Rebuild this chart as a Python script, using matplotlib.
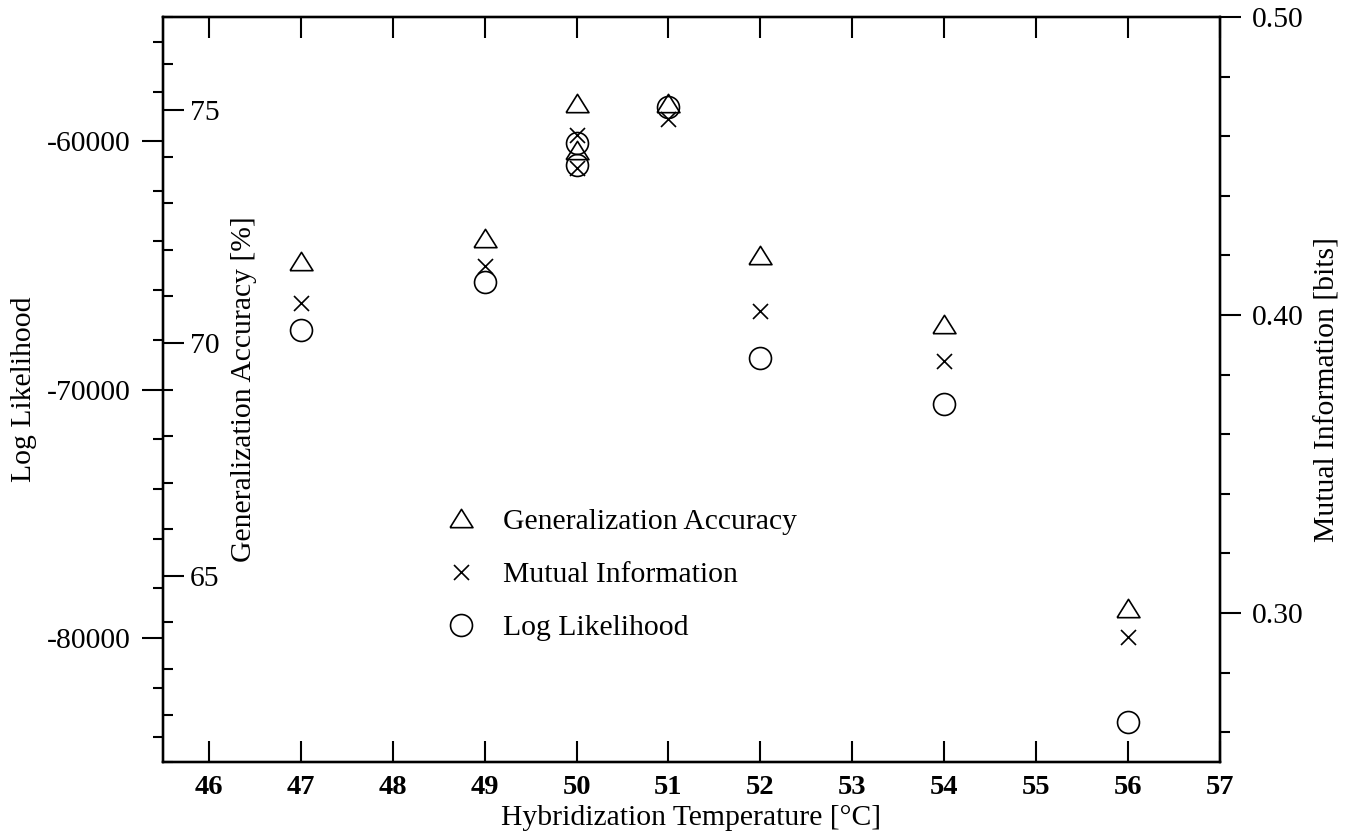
import numpy as np
import matplotlib
matplotlib.use('Agg')
import matplotlib.pyplot as plt

plt.rcParams['font.family'] = 'Liberation Serif'
plt.rcParams['font.size'] = 21.3
plt.rcParams['axes.unicode_minus'] = False

# data
temps = [47, 49, 50, 50, 51, 52, 54, 56]
accuracy = [71.77, 72.26, 75.15, 74.15, 75.15, 71.88, 70.40, 64.31]
mutual_info = [0.4041, 0.4164, 0.4603, 0.4495, 0.4657, 0.4013, 0.3847, 0.2918]
log_lik = [-67590, -65690, -60080, -60950, -58610, -68730, -70600, -83380]

x_ticks = list(range(46, 58))
ll_major = [-80000, -70000, -60000]
ll_minor = [v for v in range(-84000, -55000, 2000) if v not in ll_major]
acc_major = [65, 70, 75]
acc_minor = [v for v in range(61, 78) if v not in acc_major]
mi_major = [0.30, 0.40, 0.50]
mi_minor = [0.26, 0.28, 0.32, 0.34, 0.36, 0.38, 0.42, 0.44, 0.46, 0.48]

tri = [(-1, -0.8), (1, -0.8), (0, 0.8), (-1, -0.8)]
mk = dict(linestyle='none', markerfacecolor='none', markeredgecolor='black', markeredgewidth=1.2)

fig = plt.figure(figsize=(13.57, 8.35), dpi=100)
ax = fig.add_axes([0.1201, 0.0874, 0.7789, 0.8922])
ax_acc = ax.twinx()
ax_mi = ax.twinx()

for a in (ax, ax_acc, ax_mi):
    for s in a.spines.values():
        s.set_linewidth(1.6)

# x axis
ax.set_xlim(45.5, 57)
ax.set_xticks(x_ticks)
ax.tick_params(axis='x', which='both', direction='in', top=True, bottom=True,
               length=15, width=1.5, pad=9, labelsize=20.5)
for t in ax.get_xticklabels():
    t.set_fontweight('bold')
ax.set_xlabel('Hybridization Temperature [°C]')
ax.xaxis.set_label_coords(0.5, -0.058)

# log likelihood (outer left)
ax.set_ylim(-85000, -55000)
ax.set_yticks(ll_major)
ax.set_yticklabels([str(v) for v in ll_major])
ax.set_yticks(ll_minor, minor=True)
ax.tick_params(axis='y', which='major', direction='out', left=True, right=False,
               length=15, width=1.5, pad=8)
ax.tick_params(axis='y', which='minor', direction='out', left=True, right=False,
               length=7.5, width=1.5)
ax.set_ylabel('Log Likelihood')
ax.yaxis.set_label_coords(-0.119, 0.5)

# generalization accuracy (inner left)
ax_acc.yaxis.tick_left()
ax_acc.yaxis.set_label_position('left')
ax_acc.set_ylim(61, 77)
ax_acc.set_yticks(acc_major)
ax_acc.set_yticklabels([str(v) for v in acc_major])
ax_acc.set_yticks(acc_minor, minor=True)
ax_acc.tick_params(axis='y', which='major', direction='in', left=True, right=False,
                   labelleft=True, labelright=False, length=15, width=1.5, pad=-19.4)
ax_acc.tick_params(axis='y', which='minor', direction='in', left=True, right=False,
                   length=7.5, width=1.5)
for t in ax_acc.get_yticklabels():
    t.set_horizontalalignment('left')
ax_acc.set_ylabel('Generalization Accuracy [%]')
ax_acc.yaxis.set_label_coords(0.089, 0.5)

# mutual information (right)
ax_mi.set_ylim(0.25, 0.50)
ax_mi.set_yticks(mi_major)
ax_mi.set_yticklabels(['%.2f' % v for v in mi_major])
ax_mi.set_yticks(mi_minor, minor=True)
ax_mi.tick_params(axis='y', which='major', direction='out', right=True, left=False,
                  length=15, width=1.5, pad=8)
ax_mi.tick_params(axis='y', which='minor', direction='out', right=True, left=False,
                  length=7.5, width=1.5)
ax_mi.set_ylabel('Mutual Information [bits]')
ax_mi.yaxis.set_label_coords(1.089, 0.5)

h1, = ax_acc.plot(temps, accuracy, marker=tri, markersize=16.5, label='Generalization Accuracy', **mk)
h2, = ax_mi.plot(temps, mutual_info, marker='x', markersize=10.8, label='Mutual Information', **mk)
h3, = ax.plot(temps, log_lik, marker='o', markersize=15.8, label='Log Likelihood', **mk)

ax_mi.legend(handles=[h1, h2, h3], loc='upper left', bbox_to_anchor=(0.2687, 0.341),
             frameon=False, borderpad=0, borderaxespad=0, handlelength=0.95,
             handletextpad=0.93, labelspacing=0.9)

plt.savefig('out.png', dpi=100)
